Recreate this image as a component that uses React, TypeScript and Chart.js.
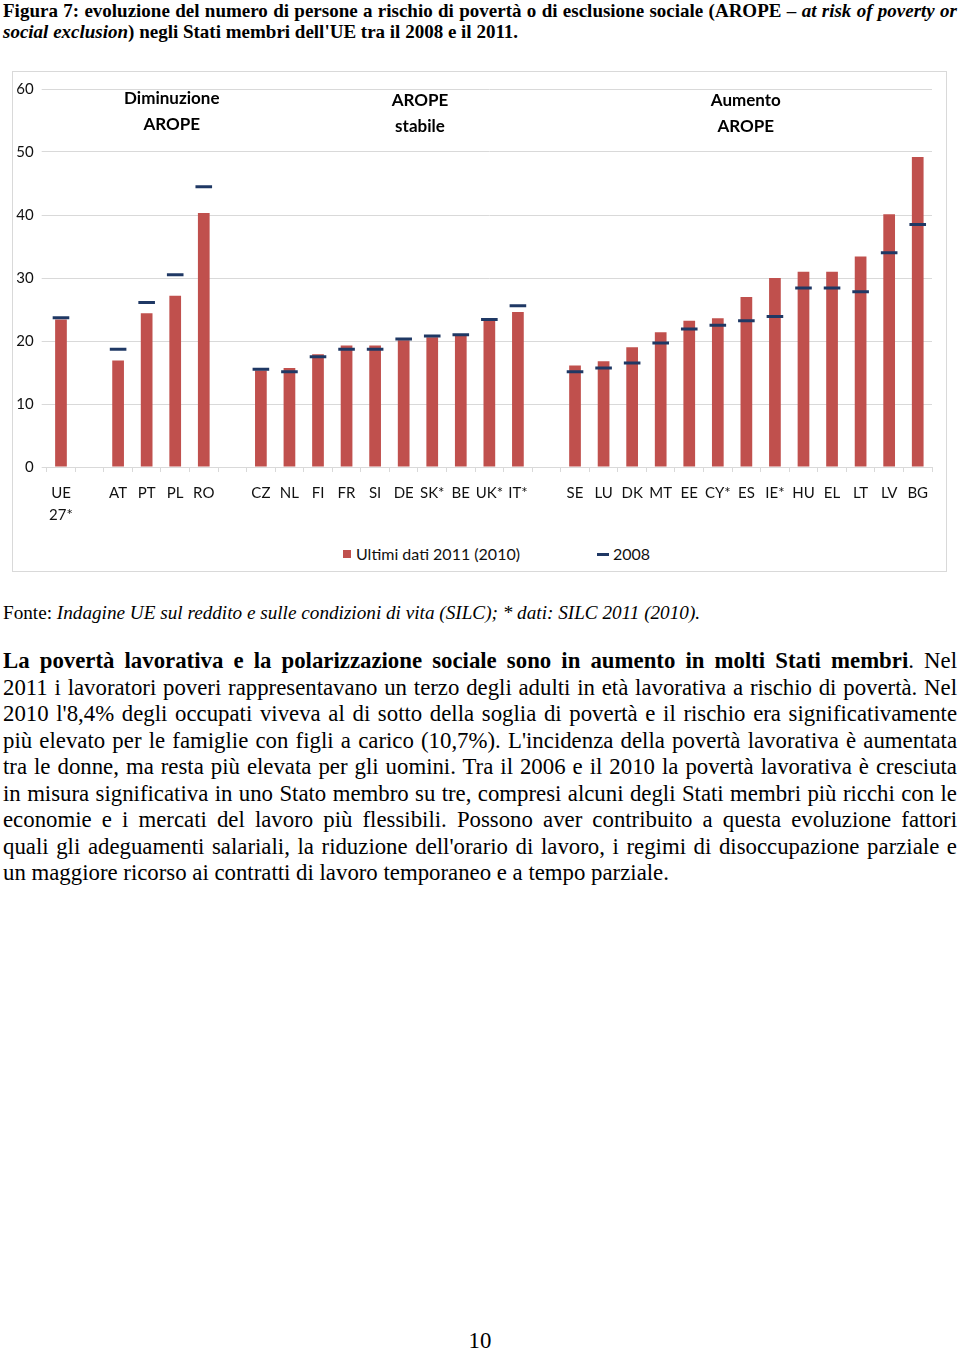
import React, { useEffect, useRef } from "react";
import { Chart, registerables } from "chart.js";

Chart.register(...registerables);

// ---- data ----
const categories: (string | string[])[] = [
  ["UE", "27*"], "", "AT", "PT", "PL", "RO", "",
  "CZ", "NL", "FI", "FR", "SI", "DE", "SK*", "BE", "UK*", "IT*", "",
  "SE", "LU", "DK", "MT", "EE", "CY*", "ES", "IE*", "HU", "EL", "LT", "LV", "BG",
];
const latestValues: (number | null)[] = [
  23.4, null, 16.9, 24.4, 27.2, 40.3, null,
  15.3, 15.7, 17.9, 19.3, 19.3, 20.1, 20.6, 20.8, 23.3, 24.6, null,
  16.1, 16.8, 19.0, 21.4, 23.2, 23.6, 27.0, 30.0, 31.0, 31.0, 33.4, 40.1, 49.2,
];
const values2008: (number | null)[] = [
  23.7, null, 18.7, 26.1, 30.5, 44.5, null,
  15.5, 15.1, 17.5, 18.7, 18.7, 20.3, 20.8, 21.0, 23.4, 25.6, null,
  15.1, 15.7, 16.5, 19.7, 21.9, 22.5, 23.2, 23.9, 28.4, 28.4, 27.8, 34.0, 38.5,
];
const seriesNames = ["Ultimi dati 2011 (2010)", "2008"];
const yTicks = { min: 0, max: 60, step: 10 };
const groupNotes = [
  { lines: ["Diminuzione", "AROPE"], at: 3.88, y: [58.5, 54.4] },
  { lines: ["AROPE", "stabile"], at: 12.57, y: [58.1, 54.1] },
  { lines: ["Aumento", "AROPE"], at: 23.98, y: [58.2, 54.1] },
];

const RED = "#C0504D";
const NAVY = "#1F3864";
const GRID = "#d9d9d9";
const FONT = "Lato, 'Open Sans', sans-serif";

const notesPlugin = {
  id: "groupNotes",
  afterDatasetsDraw(chart: any) {
    const { ctx, scales } = chart;
    ctx.save();
    ctx.fillStyle = "#000";
    ctx.font = `bold 17px ${FONT}`;
    ctx.textAlign = "center";
    ctx.textBaseline = "middle";
    groupNotes.forEach((g) => {
      const x = scales.x.getPixelForValue(g.at);
      g.lines.forEach((ln, i) => {
        ctx.fillText(ln, x, scales.y.getPixelForValue(g.y[i]));
      });
    });
    ctx.restore();
  },
};

function ArChart() {
  const ref = useRef<HTMLCanvasElement>(null);
  useEffect(() => {
    if (!ref.current) return;
    const chart = new Chart(ref.current, {
      type: "bar",
      data: {
        labels: categories as any,
        datasets: [
          {
            type: "line",
            label: seriesNames[1],
            data: values2008,
            showLine: false,
            pointStyle: "line",
            pointRadius: 8.3,
            pointHoverRadius: 8.3,
            pointBorderWidth: 3,
            pointBorderColor: NAVY,
            pointBackgroundColor: NAVY,
            borderColor: NAVY,
            order: 0,
          } as any,
          {
            type: "bar",
            label: seriesNames[0],
            data: latestValues,
            backgroundColor: RED,
            barPercentage: 0.41,
            categoryPercentage: 1.0,
            order: 1,
          } as any,
        ],
      },
      options: {
        animation: false,
        responsive: false,
        layout: { padding: { left: 0, right: 13, top: 13, bottom: 0 } },
        plugins: {
          legend: { display: false },
          tooltip: { enabled: false },
        },
        scales: {
          x: {
            offset: true,
            grid: {
              offset: true,
              drawOnChartArea: false,
              drawTicks: true,
              tickLength: 5,
              color: GRID,
            },
            border: { display: true, color: GRID },
            ticks: {
              autoSkip: false,
              maxRotation: 0,
              minRotation: 0,
              padding: 10,
              color: "#111",
              font: { family: FONT, size: 15, lineHeight: "22px" } as any,
            },
            afterFit: (s: any) => {
              s.height = 65;
            },
          },
          y: {
            min: yTicks.min,
            max: yTicks.max,
            ticks: {
              stepSize: yTicks.step,
              padding: 8,
              color: "#111",
              font: { family: FONT, size: 15 },
            },
            grid: { color: GRID, tickLength: 5 },
            border: { display: false },
            afterFit: (s: any) => {
              s.width = 34.7;
            },
          },
        },
      },
      plugins: [notesPlugin],
    });
    return () => chart.destroy();
  }, []);
  return <canvas ref={ref} width={933} height={460} style={{ display: "block" }} />;
}

const serif = "'Liberation Serif', 'Times New Roman', serif";

const bodyLines: React.ReactNode[] = [
  <>
    <b style={{ fontWeight: 700 }}>
      La povertà lavorativa e la polarizzazione sociale sono in aumento in molti Stati membri
    </b>
    . Nel
  </>,
  "2011 i lavoratori poveri rappresentavano un terzo degli adulti in età lavorativa a rischio di povertà. Nel",
  "2010 l'8,4% degli occupati viveva al di sotto della soglia di povertà e il rischio era significativamente",
  "più elevato per le famiglie con figli a carico (10,7%). L'incidenza della povertà lavorativa è aumentata",
  "tra le donne, ma resta più elevata per gli uomini. Tra il 2006 e il 2010 la povertà lavorativa è cresciuta",
  "in misura significativa in uno Stato membro su tre, compresi alcuni degli Stati membri più ricchi con le",
  "economie e i mercati del lavoro più flessibili. Possono aver contribuito a questa evoluzione fattori",
  "quali gli adeguamenti salariali, la riduzione dell'orario di lavoro, i regimi di disoccupazione parziale e",
  "un maggiore ricorso ai contratti di lavoro temporaneo e a tempo parziale.",
];

export default function App() {
  const justLine: React.CSSProperties = {
    whiteSpace: "nowrap",
    textAlign: "justify",
    textAlignLast: "justify",
  };
  return (
    <div
      style={{
        position: "absolute",
        left: 0,
        top: 0,
        width: 960,
        height: 1351,
        background: "#fff",
        fontFamily: serif,
        color: "#000",
        overflow: "hidden",
      }}
    >
      {/* title */}
      <div
        style={{
          position: "absolute",
          left: 3,
          top: 0,
          width: 954,
          fontSize: 19,
          lineHeight: "21px",
          fontWeight: 700,
        }}
      >
        <div style={justLine}>
          Figura 7: evoluzione del numero di persone a rischio di povertà o di esclusione sociale (AROPE –{" "}
          <i>at risk of poverty or</i>
        </div>
        <div style={{ whiteSpace: "nowrap" }}>
          <i>social exclusion</i>) negli Stati membri dell'UE tra il 2008 e il 2011.
        </div>
      </div>

      {/* chart box */}
      <div
        style={{
          position: "absolute",
          left: 12,
          top: 71,
          width: 935,
          height: 501,
          border: `1px solid ${GRID}`,
          boxSizing: "border-box",
        }}
      />
      <div style={{ position: "absolute", left: 12, top: 72 }}>
        <ArChart />
      </div>
      {/* legend */}
      <div style={{ position: "absolute", left: 343, top: 550, width: 8, height: 8, background: RED }} />
      <div
        style={{
          position: "absolute",
          left: 356,
          top: 544,
          fontFamily: FONT,
          fontSize: 16,
          lineHeight: "20px",
          color: "#111",
          whiteSpace: "nowrap",
        }}
      >
        {seriesNames[0]}
      </div>
      <div style={{ position: "absolute", left: 597, top: 553, width: 12, height: 3, background: NAVY }} />
      <div
        style={{
          position: "absolute",
          left: 613,
          top: 544,
          fontFamily: FONT,
          fontSize: 16,
          lineHeight: "20px",
          color: "#111",
          whiteSpace: "nowrap",
        }}
      >
        {seriesNames[1]}
      </div>

      {/* source */}
      <div
        style={{
          position: "absolute",
          left: 3,
          top: 602,
          fontSize: 19.2,
          lineHeight: "22px",
          whiteSpace: "nowrap",
        }}
      >
        Fonte: <i>Indagine UE sul reddito e sulle condizioni di vita (SILC); * dati: SILC 2011 (2010).</i>
      </div>

      {/* body */}
      <div
        style={{
          position: "absolute",
          left: 3,
          top: 648,
          width: 954,
          fontSize: 22.8,
          lineHeight: "26.5px",
        }}
      >
        {bodyLines.map((ln, i) => (
          <div key={i} style={i < bodyLines.length - 1 ? justLine : { whiteSpace: "nowrap" }}>
            {ln}
          </div>
        ))}
      </div>

      {/* page number */}
      <div
        style={{
          position: "absolute",
          left: 0,
          width: 960,
          top: 1328,
          textAlign: "center",
          fontSize: 22.8,
          lineHeight: "26px",
        }}
      >
        10
      </div>
    </div>
  );
}
